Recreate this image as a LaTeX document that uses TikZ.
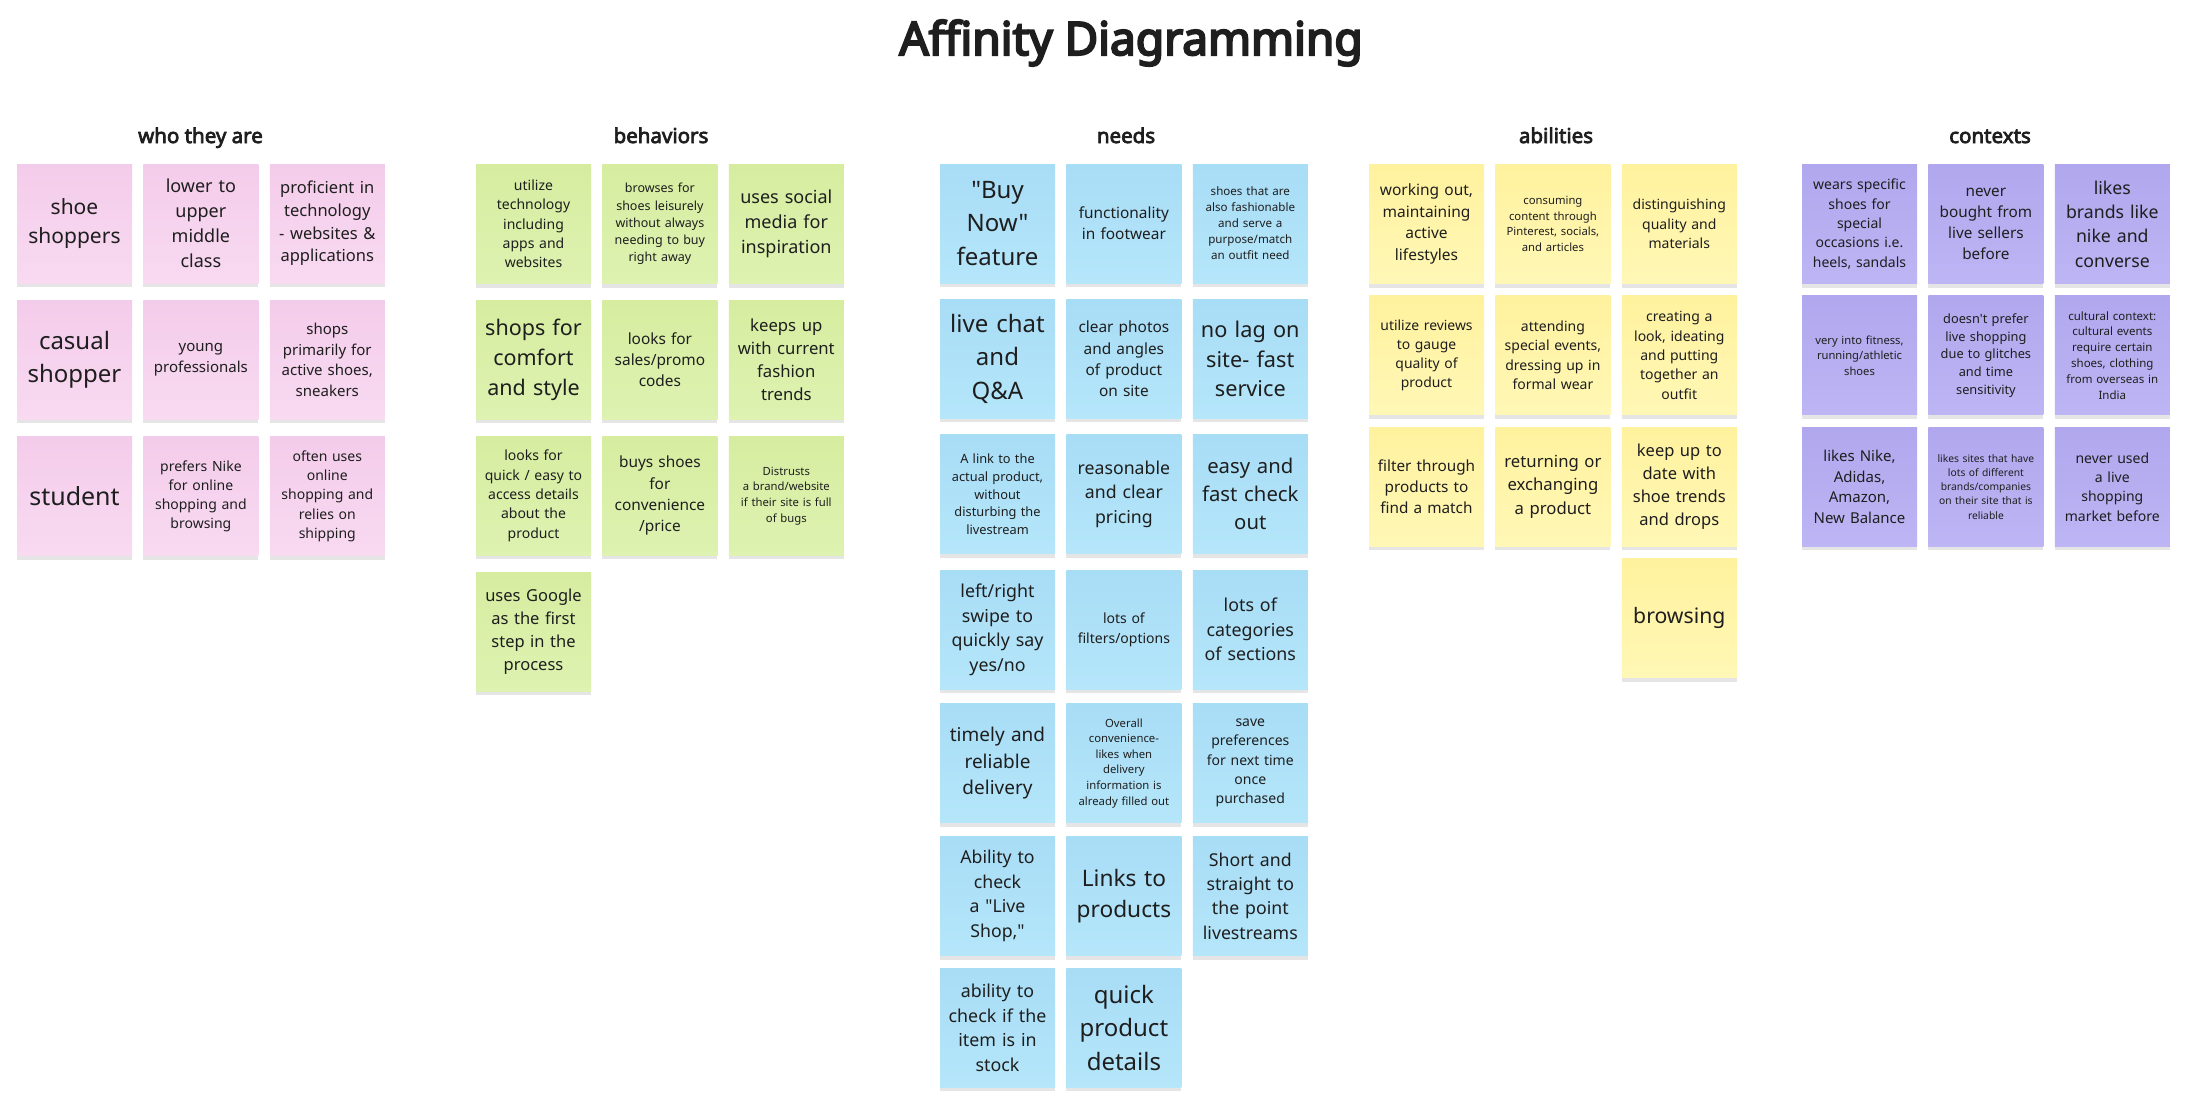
\documentclass[tikz,border=0pt]{standalone}
\usepackage{fontspec}
\setmainfont{Noto Sans}[Ligatures=TeXOff]
\newfontfamily\headfont{Noto Sans}[Ligatures=TeXOff, FakeBold=3.5]
\newfontfamily\titlefont{Noto Sans}[Ligatures=TeXOff, FakeBold=4.5]
\usetikzlibrary{positioning,shadows}

\definecolor{ink}{HTML}{1E1E1E}
\definecolor{pinktop}{HTML}{F4CCEB}
\definecolor{pinkbot}{HTML}{F8DAF1}
\definecolor{greentop}{HTML}{D6EDA0}
\definecolor{greenbot}{HTML}{DEF2B1}
\definecolor{bluetop}{HTML}{A8DDF6}
\definecolor{bluebot}{HTML}{B5E6FA}
\definecolor{yellowtop}{HTML}{FFF29E}
\definecolor{yellowbot}{HTML}{FFF7B6}
\definecolor{purpletop}{HTML}{B1A7EE}
\definecolor{purplebot}{HTML}{BDB5F4}

\begin{document}
\begin{tikzpicture}[
        x=1pt, y=-1pt,
        fs/.style={font=\fontsize{#1}{\fpeval{1.38*#1}}\selectfont},
        note/.style={rectangle, align=center, text=ink, minimum width=115pt, minimum height=119pt,
            text width=105pt, inner sep=5pt,
            drop shadow={shadow xshift=0pt, shadow yshift=-4pt, opacity=0.10, fill=black}},
        who/.style={note, top color=pinktop, bottom color=pinkbot},
        behav/.style={note, top color=greentop, bottom color=greenbot},
        need/.style={note, top color=bluetop, bottom color=bluebot},
        abil/.style={note, top color=yellowtop, bottom color=yellowbot},
        ctx/.style={note, top color=purpletop, bottom color=purplebot},
        heading/.style={anchor=base, text=ink, font=\headfont\fontsize{20.5}{25}\selectfont}
    ]

    \useasboundingbox[fill=white] (0,0) rectangle (2198,1112);

    % Title
    \node[anchor=base, text=ink, font=\titlefont\fontsize{46}{55}\selectfont] (title) at (1131,55) {Affinity Diagramming};

    % Headings
    \node[heading] (hwho) at (200.5,143) {who they are};
    \node[heading] (hbehav) at (661,143) {behaviors};
    \node[heading] (hneed) at (1126,143) {needs};
    \node[heading] (habil) at (1556,143) {abilities};
    \node[heading] (hctx) at (1990,143) {contexts};

    % who they are
    \begin{scope}[node distance=17pt and 11pt]
    \node[who, fs=21] (w1) at (74.5,223.5) {shoe\\shoppers};
    \node[who, fs=18] (w2) [right=of w1] {lower to\\upper\\middle\\class};
    \node[who, fs=16.5] (w3) [right=of w2] {proficient in\\technology\\- websites \&\\applications};
    \node[who, fs=24] (w4) [below=of w1] {casual\\shopper};
    \node[who, fs=15] (w5) [right=of w4] {young\\professionals};
    \node[who, fs=15] (w6) [right=of w5] {shops\\primarily for\\active shoes,\\sneakers};
    \node[who, fs=25] (w7) [below=of w4] {student};
    \node[who, fs=14] (w8) [right=of w7] {prefers Nike\\for online\\shopping and\\browsing};
    \node[who, fs=14] (w9) [right=of w8] {often uses\\online\\shopping and\\relies on\\shipping};
    \end{scope}

    % behaviors
    \begin{scope}[node distance=16.5pt and 11pt]
    \node[behav, fs=14] (b1) at (533.5,224) {utilize\\technology\\including\\apps and\\websites};
    \node[behav, fs=12.5] (b2) [right=of b1] {browses for\\shoes leisurely\\without always\\needing to buy\\right away};
    \node[behav, fs=18] (b3) [right=of b2] {uses social\\media for\\inspiration};
    \node[behav, fs=21.5] (b4) [below=of b1] {shops for\\comfort\\and style};
    \node[behav, fs=15.4] (b5) [right=of b4] {looks for\\sales/promo\\codes};
    \node[behav, fs=16.7] (b6) [right=of b5] {keeps up\\with current\\fashion\\trends};
    \node[behav, fs=14] (b7) [below=of b4] {looks for\\quick / easy to\\access details\\about the\\product};
    \node[behav, fs=15.4] (b8) [right=of b7] {buys shoes\\for\\convenience\\/price};
    \node[behav, fs=11.3] (b9) [right=of b8] {Distrusts\\a brand/website\\if their site is full\\of bugs};
    \node[behav, fs=16.5] (b10) [below=of b7] {uses Google\\as the first\\step in the\\process};
    \end{scope}

    % needs
    \begin{scope}[node distance=16pt and 11pt]
    \node[need, fs=24] (n1) at (997.5,223.5) {"Buy\\Now"\\feature};
    \node[need, fs=15.4] (n2) [right=of n1] {functionality\\in footwear};
    \node[need, fs=11.6] (n3) [right=of n2] {shoes that are\\also fashionable\\and serve a\\purpose/match\\an outfit need};
    \node[need, fs=24] (n4) [below=of n1] {live chat\\and\\Q\&A};
    \node[need, fs=15.4] (n5) [right=of n4] {clear photos\\and angles\\of product\\on site};
    \node[need, fs=21.7] (n6) [right=of n5] {no lag on\\site- fast\\service};
    \node[need, fs=12.8] (n7) [below=of n4] {A link to the\\actual product,\\without\\disturbing the\\livestream};
    \node[need, fs=17.7] (n8) [right=of n7] {reasonable\\and clear\\pricing};
    \node[need, fs=20.3] (n9) [right=of n8] {easy and\\fast check\\out};
    \node[need, fs=17.8] (n10) [below=of n7] {left/right\\swipe to\\quickly say\\yes/no};
    \node[need, fs=14] (n11) [right=of n10] {lots of\\filters/options};
    \node[need, fs=17.8] (n12) [right=of n11] {lots of\\categories\\of sections};
    \node[need, fs=19] (n13) [below=14pt of n10] {timely and\\reliable\\delivery};
    \node[need, fs=11.3] (n14) [right=of n13] {Overall\\convenience-\\likes when\\delivery\\information is\\already filled out};
    \node[need, fs=14] (n15) [right=of n14] {save\\preferences\\for next time\\once\\purchased};
    \node[need, fs=17.7] (n16) [below=13.5pt of n13] {Ability to\\check\\a "Live\\Shop,"};
    \node[need, fs=22.7] (n17) [right=of n16] {Links to\\products};
    \node[need, fs=17.7] (n18) [right=of n17] {Short and\\straight to\\the point\\livestreams};
    \node[need, fs=17.8] (n19) [below=12.5pt of n16] {ability to\\check if the\\item is in\\stock};
    \node[need, fs=24] (n20) [right=of n19] {quick\\product\\details};
    \end{scope}

    % abilities
    \begin{scope}[node distance=12pt and 11pt]
    \node[abil, fs=15.5] (a1) at (1426.5,224) {working out,\\maintaining\\active\\lifestyles};
    \node[abil, fs=11.3] (a2) [right=of a1] {consuming\\content through\\Pinterest, socials,\\and articles};
    \node[abil, fs=14] (a3) [right=of a2] {distinguishing\\quality and\\materials};
    \node[abil, fs=13.9] (a4) [below=of a1] {utilize reviews\\to gauge\\quality of\\product};
    \node[abil, fs=14] (a5) [right=of a4] {attending\\special events,\\dressing up in\\formal wear};
    \node[abil, fs=14] (a6) [right=of a5] {creating a\\look, ideating\\and putting\\together an\\outfit};
    \node[abil, fs=15.3] (a7) [below=of a4] {filter through\\products to\\find a match};
    \node[abil, fs=16.7] (a8) [right=of a7] {returning or\\exchanging\\a product};
    \node[abil, fs=16.5] (a9) [right=of a8] {keep up to\\date with\\shoe trends\\and drops};
    \node[abil, fs=21.2] (a10) [below=of a9] {browsing};
    \end{scope}

    % contexts
    \begin{scope}[node distance=12pt and 11pt]
    \node[ctx, fs=14] (c1) at (1859.5,224) {wears specific\\shoes for\\special\\occasions i.e.\\heels, sandals};
    \node[ctx, fs=15.3] (c2) [right=of c1] {never\\bought from\\live sellers\\before};
    \node[ctx, fs=17.7] (c3) [right=of c2] {likes\\brands like\\nike and\\converse};
    \node[ctx, fs=11.2] (c4) [below=of c1] {very into fitness,\\running/athletic\\shoes};
    \node[ctx, fs=12.8] (c5) [right=of c4] {doesn't prefer\\live shopping\\due to glitches\\and time\\sensitivity};
    \node[ctx, fs=11.5] (c6) [right=of c5] {cultural context:\\cultural events\\require certain\\shoes, clothing\\from overseas in\\India};
    \node[ctx, fs=15] (c7) [below=of c4] {likes Nike,\\Adidas,\\Amazon,\\New Balance};
    \node[ctx, fs=10.3] (c8) [right=of c7] {likes sites that have\\lots of different\\brands/companies\\on their site that is\\reliable};
    \node[ctx, fs=14] (c9) [right=of c8] {never used\\a live\\shopping\\market before};
    \end{scope}

\end{tikzpicture}
\end{document}
